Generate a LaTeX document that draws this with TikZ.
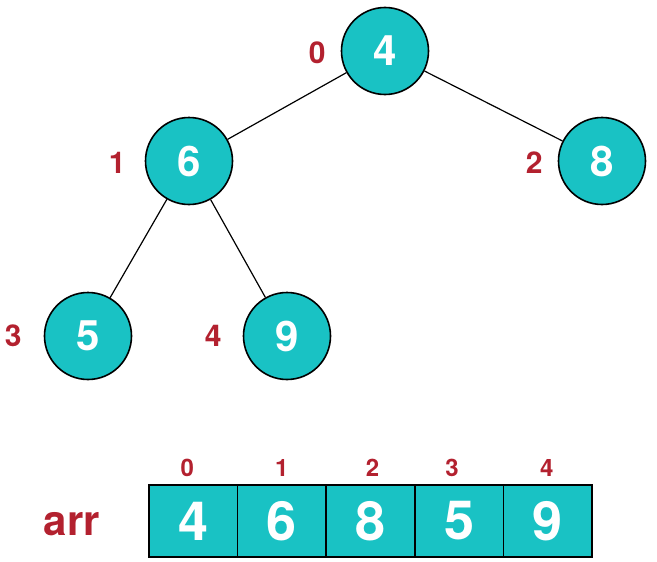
\documentclass[tikz,border=0pt]{standalone}
\usepackage{fontspec}
\setmainfont{TeX Gyre Heros}
\usepackage{tikz}
\usepackage{xcolor}
\usetikzlibrary{positioning}
\definecolor{heapteal}{HTML}{19C2C4}
\definecolor{heapred}{HTML}{B3212F}
\tikzset{
  hnode/.style={circle, draw=black, line width=1.6pt, fill=heapteal, text=white, minimum size=87pt, inner sep=0pt, font=\fontsize{42}{42}\selectfont\bfseries},
  hidx/.style={text=heapred, inner sep=0pt, font=\fontsize{30}{30}\selectfont\bfseries},
  cell/.style={draw=black, line width=1.5pt, fill=heapteal, text=white, minimum width=88.6pt, minimum height=72pt, inner sep=0pt, outer sep=0pt, font=\fontsize{54}{54}\selectfont\bfseries},
  aidx/.style={text=heapred, inner sep=0pt, font=\fontsize{24}{24}\selectfont\bfseries},
  edge/.style={line width=1.2pt, draw=black}
}
\begin{document}
\begin{tikzpicture}[x=1pt, y=-1pt]
  \useasboundingbox (0,0) rectangle (657,562);
  \node[hnode] (n0) at (385,51) {4};
  \node[hnode] (n1) at (189,161) {6};
  \node[hnode] (n2) at (602,161) {8};
  \node[hnode] (n3) at (88,336) {5};
  \node[hnode] (n4) at (287,336) {9};
  \node[hidx, left=15pt of n0, yshift=-2pt] (i0) {0};
  \node[hidx, left=19pt of n1, yshift=-2pt] (i1) {1};
  \node[hidx, left=15pt of n2, yshift=-2pt] (i2) {2};
  \node[hidx, left=22pt of n3] (i3) {3};
  \node[hidx, left=21pt of n4] (i4) {4};
  \draw[edge] (n0) -- (n1);
  \draw[edge] (n0) -- (n2);
  \draw[edge] (n1) -- (n3);
  \draw[edge] (n1) -- (n4);
  \node[cell] (c0) at (193.3,521) {4};
  \node[cell, right=0pt of c0] (c1) {6};
  \node[cell, right=0pt of c1] (c2) {8};
  \node[cell, right=0pt of c2] (c3) {5};
  \node[cell, right=0pt of c3] (c4) {9};
  \foreach \i/\dx in {0/-6, 1/0, 2/2, 3/-7, 4/-1}
    \node[aidx, above=8pt of c\i, xshift=\dx pt] (a\i) {\i};
  \node[text=heapred, inner sep=0pt, font=\fontsize{42}{42}\selectfont\bfseries, left=49pt of c0, yshift=-3pt] (arr) {arr};
\end{tikzpicture}
\end{document}
